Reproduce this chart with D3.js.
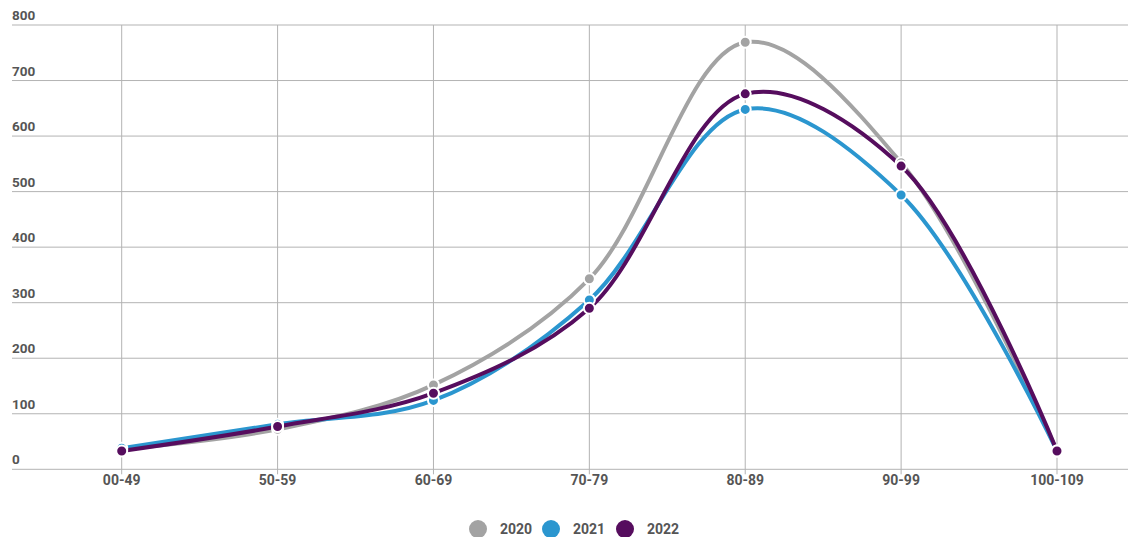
<!DOCTYPE html>
<html><head><meta charset="utf-8">
<script src="https://cdn.jsdelivr.net/npm/d3@7"></script>
<style>body{margin:0;background:#fff;font-family:Roboto,"Noto Sans",sans-serif;}</style>
</head><body>
<svg id="c" width="1128" height="537"></svg>
<script>
const categories = ["00-49","50-59","60-69","70-79","80-89","90-99","100-109"];
const seriesNames = ["2020","2021","2022"];
const values2020 = [36, 72, 152, 343, 769, 552, 33];
const values2021 = [38, 81, 124, 305, 648, 494, 33];
const values2022 = [33, 77, 137, 290, 676, 546, 33];
const colors = ["#a3a3a3","#2b96cf","#560d5e"];
const yTicks = [0,100,200,300,400,500,600,700,800];

const svg = d3.select("#c");
const x = d3.scalePoint().domain(categories).range([121.7, 1057]);
const y = d3.scaleLinear().domain([0,800]).range([469.3, 25]);
const left = 12, right = 1128;

svg.append("g").selectAll("line").data(yTicks).join("line")
  .attr("x1", left).attr("x2", right)
  .attr("y1", d=>y(d)).attr("y2", d=>y(d))
  .attr("stroke", "#b3b3b3").attr("stroke-width", 1);
svg.append("g").selectAll("line").data(categories).join("line")
  .attr("x1", d=>x(d)).attr("x2", d=>x(d))
  .attr("y1", y(800)).attr("y2", y(0)+5)
  .attr("stroke", "#b3b3b3").attr("stroke-width", 1);
svg.append("g").selectAll("text").data(yTicks).join("text")
  .attr("x", left).attr("y", d=>y(d)-5)
  .attr("font-size", 13.5).attr("font-weight", 700).attr("fill", "#555")
  .text(d=>d);
svg.append("g").selectAll("text").data(categories).join("text")
  .attr("x", d=>x(d)).attr("y", 485)
  .attr("text-anchor","middle")
  .attr("font-size", 14).attr("font-weight", 700).attr("fill", "#555")
  .text(d=>d);

const all = [values2020, values2021, values2022];
const line = d3.line().x((d,i)=>x(categories[i])).y(d=>y(d)).curve(d3.curveCatmullRom.alpha(0.5));
all.forEach((vals, si) => {
  svg.append("path").attr("d", line(vals)).attr("fill","none")
    .attr("stroke", colors[si]).attr("stroke-width", 4).attr("stroke-linecap","round");
});
all.forEach((vals, si) => {
  svg.append("g").selectAll("circle").data(vals).join("circle")
    .attr("cx",(d,i)=>x(categories[i])).attr("cy", d=>y(d)).attr("r", 5.5)
    .attr("fill", colors[si]).attr("stroke","#fff").attr("stroke-width",2);
});

const lg = svg.append("g");
const lx = [478, 551, 625];
seriesNames.forEach((n,i)=>{
  lg.append("circle").attr("cx", lx[i]).attr("cy", 529).attr("r", 9).attr("fill", colors[i]);
  lg.append("text").attr("x", lx[i]+22).attr("y", 534).attr("font-size", 14)
    .attr("font-weight",700).attr("fill","#555").text(n);
});
</script>
</body></html>
